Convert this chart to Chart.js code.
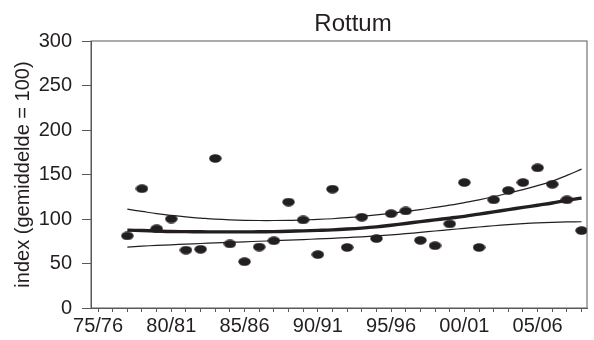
<!DOCTYPE html>
<html>
<head>
<meta charset="utf-8">
<script src="https://cdn.jsdelivr.net/npm/chart.js@4/dist/chart.umd.min.js"></script>
<style>
  html, body { margin: 0; padding: 0; background: #fff; }
  #wrap { width: 594px; height: 340px; }
</style>
</head>
<body>
<div id="wrap"><canvas id="chart" width="594" height="340"></canvas></div>
<script>
/* global Chart */
const FONT = '"Liberation Sans", Arial, Helvetica, sans-serif';
const INK = "#231f20";
const AXIS = "#58595b";

// seasons with a count, first to last
const seasons = [
  "77/78", "78/79", "79/80", "80/81", "81/82", "82/83", "83/84", "84/85",
  "85/86", "86/87", "87/88", "88/89", "89/90", "90/91", "91/92", "92/93",
  "93/94", "94/95", "95/96", "96/97", "97/98", "98/99", "99/00", "00/01",
  "01/02", "02/03", "03/04", "04/05", "05/06", "06/07", "07/08", "08/09",
];

// yearly index (mean = 100)
const indexValues = [
  81, 134, 89, 100, 65, 66, 168, 72,
  52, 68.5, 75.5, 119, 99, 60, 133.5, 68,
  102, 78, 106, 109, 76, 70, 94.5, 141,
  68, 121.5, 132, 141, 157.5, 139, 121.5, 87,
];

// smoothed trend and its confidence band
const trend = [
  87.5, 87, 86.5, 86, 85.8, 85.6, 85.5, 85.5,
  85.5, 85.6, 85.8, 86.2, 86.7, 87.2, 87.8, 88.7,
  89.8, 91.2, 93, 95, 97, 99, 101, 103,
  105.5, 108, 110.5, 113, 115.5, 118, 121, 123.5,
];
const upper = [
  111, 108.5, 106, 104, 102.3, 101, 99.8, 99,
  98.5, 98.3, 98.3, 98.5, 99, 99.5, 100.3, 101.5,
  103, 104.7, 106.5, 108.5, 110.5, 113, 115.5, 118.5,
  121.5, 125, 129, 133, 137.5, 142.5, 149, 156,
];
const lower = [
  68.5, 69.5, 70.3, 71, 71.8, 72.5, 73.2, 73.8,
  74.4, 75, 75.6, 76.2, 76.9, 77.6, 78.3, 79.1,
  80, 81, 82.2, 83.5, 85, 86.5, 88, 89.5,
  91, 92.4, 93.7, 94.8, 95.7, 96.3, 96.7, 96.9,
];

// axis: one tick per season from 75/76, labelled every fifth
const axisSeasons = [
  "75/76", "76/77", "77/78", "78/79", "79/80", "80/81", "81/82", "82/83",
  "83/84", "84/85", "85/86", "86/87", "87/88", "88/89", "89/90", "90/91",
  "91/92", "92/93", "93/94", "94/95", "95/96", "96/97", "97/98", "98/99",
  "99/00", "00/01", "01/02", "02/03", "03/04", "04/05", "05/06", "06/07",
  "07/08", "08/09",
];
const tickLabels = ["75/76", "80/81", "85/86", "90/91", "95/96", "00/01", "05/06"];
const yTicks = [0, 50, 100, 150, 200, 250, 300];

const xOf = (s) => axisSeasons.indexOf(s);
const pts = (vals) => seasons.map((s, i) => ({ x: xOf(s), y: vals[i] }));

// flat oval marker
function makeDot() {
  const c = document.createElement("canvas");
  c.width = 13;
  c.height = 9;
  const g = c.getContext("2d");
  g.fillStyle = INK;
  g.beginPath();
  g.ellipse(6.5, 4.5, 6.2, 4.2, 0, 0, Math.PI * 2);
  g.fill();
  return c;
}

const frame = {
  id: "frame",
  afterDraw(chart) {
    const { ctx, chartArea: a } = chart;
    ctx.save();
    ctx.strokeStyle = AXIS;
    ctx.lineWidth = 1;
    ctx.strokeRect(a.left, a.top, a.right - a.left, a.bottom - a.top);
    ctx.fillStyle = INK;
    ctx.font = `24px ${FONT}`;
    ctx.textAlign = "center";
    ctx.textBaseline = "alphabetic";
    ctx.fillText("Rottum", 353, 31);
    ctx.restore();
  },
};

const line = (data, width) => ({
  data: pts(data),
  showLine: true,
  borderColor: INK,
  borderWidth: width,
  pointRadius: 0,
  tension: 0.4,
  fill: false,
  order: 2,
});

new Chart(document.getElementById("chart"), {
  type: "scatter",
  data: {
    datasets: [
      {
        data: pts(indexValues),
        pointStyle: makeDot(),
        pointRadius: 6,
        order: 1,
      },
      line(trend, 3.4),
      line(upper, 1.2),
      line(lower, 1.2),
    ],
  },
  options: {
    responsive: false,
    animation: false,
    events: [],
    layout: { padding: { top: 41, right: 6, left: 0, bottom: 0 } },
    plugins: { legend: { display: false }, tooltip: { enabled: false } },
    scales: {
      x: {
        type: "linear",
        min: -0.48,
        max: 33.37,
        afterBuildTicks: (axis) => {
          axis.ticks = axisSeasons.map((s, i) => ({ value: i }));
        },
        afterFit: (scale) => { scale.height = 32; },
        border: { display: true, color: AXIS, width: 1 },
        grid: { display: true, drawOnChartArea: false, drawTicks: true, tickLength: 4, color: AXIS },
        ticks: {
          autoSkip: false,
          maxRotation: 0,
          padding: 2,
          color: INK,
          font: { family: FONT, size: 20 },
          callback: (v) => (tickLabels.includes(axisSeasons[v]) ? axisSeasons[v] : ""),
        },
      },
      y: {
        min: 0,
        max: 300,
        afterBuildTicks: (axis) => {
          axis.ticks = yTicks.map((v) => ({ value: v }));
        },
        afterFit: (scale) => { scale.width = 91; },
        border: { display: true, color: AXIS, width: 1 },
        grid: { display: true, drawOnChartArea: false, drawTicks: true, tickLength: 9, color: AXIS },
        ticks: { padding: 10, color: INK, font: { family: FONT, size: 20 } },
        title: {
          display: true,
          text: "index (gemiddelde = 100)",
          color: INK,
          font: { family: FONT, size: 20 },
          padding: { top: 11, bottom: 0 },
        },
      },
    },
  },
  plugins: [frame],
});
</script>
</body>
</html>
